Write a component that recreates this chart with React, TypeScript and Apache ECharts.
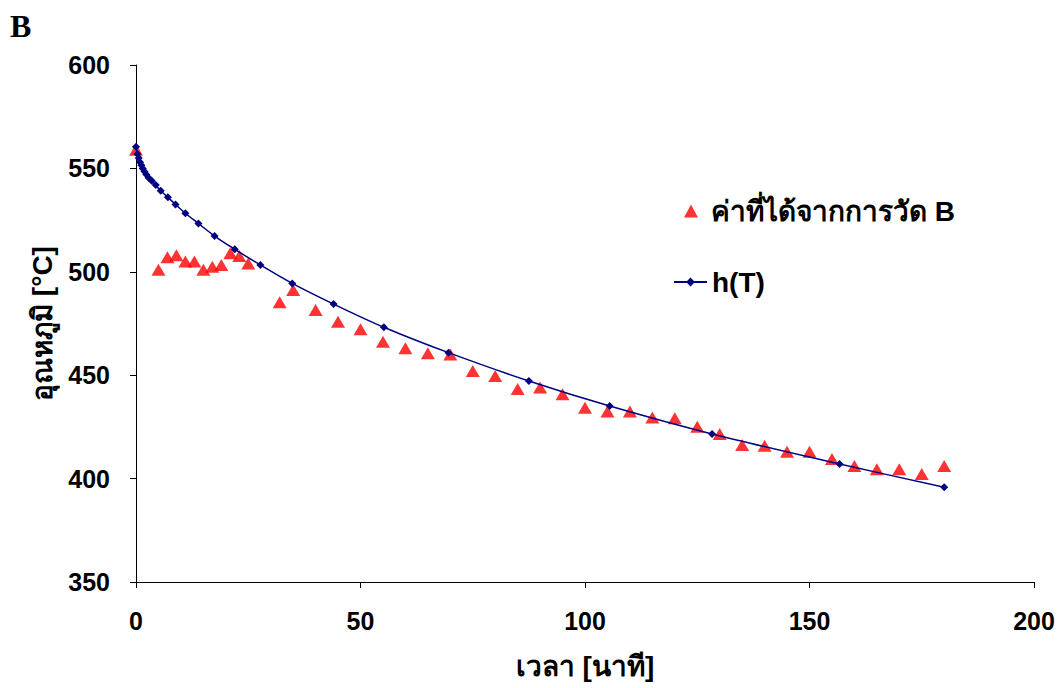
import React, { useEffect, useRef } from "react";
import * as echarts from "echarts";

const measuredName = "ค่าที่ได้จากการวัด B";
const modelName = "h(T)";

const measuredTime = [0, 5, 7, 9, 11, 13, 15, 17, 19, 21, 23, 25, 32, 35, 40, 45, 50, 55, 60, 65, 70, 75, 80, 85, 90, 95, 100, 105, 110, 115, 120, 125, 130, 135, 140, 145, 150, 155, 160, 165, 170, 175, 180];
const measuredTemp = [559, 501, 507, 508, 505, 505, 501, 502.5, 503.3, 509, 507.6, 504, 485.3, 491.2, 481.5, 475.9, 472.2, 466.2, 463, 460.6, 460, 452, 449.6, 443.3, 444.1, 440.8, 434.3, 432.4, 432.5, 429.5, 429.2, 425.1, 421.6, 416.2, 415.9, 413, 413, 409.5, 406.1, 404.5, 404.5, 402.2, 406.1];

const modelTime = [0, 0.3, 0.6, 0.9, 1.2, 1.5, 1.9, 2.3, 2.8, 3.5, 4.4, 5.5, 7.1, 8.8, 11, 13.9, 17.5, 22, 27.7, 34.8, 44, 55.2, 69.6, 87.5, 105.5, 128.3, 156.7, 180];
const modelTemp = [560.5, 557, 555, 553, 551.5, 550, 548.5, 547, 545.5, 544, 542, 539.2, 536, 532.6, 528.3, 523.4, 517.3, 510.9, 503.3, 494.4, 484.4, 473.2, 460.9, 447.2, 435.1, 421.6, 407.1, 395.8];

const xTicks = { min: 0, max: 200, interval: 50 };
const yTicks = { min: 350, max: 600, interval: 50 };

const FONT = "'Liberation Sans', Arial, 'Noto Sans', 'DejaVu Sans', sans-serif";

export default function App() {
  const ref = useRef<HTMLDivElement>(null);
  useEffect(() => {
    if (!ref.current) return;
    const chart = echarts.init(ref.current, null, { renderer: "svg" });
    const measured = measuredTime.map((t, i) => [t, measuredTemp[i]]);
    const model = modelTime.map((t, i) => [t, modelTemp[i]]);
    chart.setOption({
      animation: false,
      backgroundColor: "#fff",
      textStyle: { fontFamily: FONT },
      graphic: [
        {
          type: "text",
          left: 10,
          top: 10,
          style: {
            text: "B",
            font: "bold 32px 'Liberation Serif', 'Times New Roman', serif",
            fill: "#000",
          },
        },
      ],
      grid: { left: 136, top: 65, width: 898, height: 517, containLabel: false },
      xAxis: {
        type: "value",
        min: xTicks.min,
        max: xTicks.max,
        interval: xTicks.interval,
        name: "เวลา [นาที]",
        nameLocation: "middle",
        nameGap: 70,
        nameTextStyle: { fontFamily: FONT, fontWeight: "bold", fontSize: 28, color: "#000" },
        axisLine: { show: true, onZero: false, lineStyle: { color: "#000", width: 1 } },
        axisTick: { show: true, length: 6, lineStyle: { color: "#000" } },
        axisLabel: { fontFamily: FONT, fontWeight: "bold", fontSize: 25, color: "#000", margin: 26 },
        splitLine: { show: false },
      },
      yAxis: {
        type: "value",
        min: yTicks.min,
        max: yTicks.max,
        interval: yTicks.interval,
        name: "อุณหภูมิ [°C]",
        nameLocation: "middle",
        nameRotate: 90,
        nameGap: 80,
        nameTextStyle: { fontFamily: FONT, fontWeight: "bold", fontSize: 28, color: "#000" },
        axisLine: { show: true, onZero: false, lineStyle: { color: "#000", width: 1 } },
        axisTick: { show: true, length: 6, lineStyle: { color: "#000" } },
        axisLabel: { fontFamily: FONT, fontWeight: "bold", fontSize: 25, color: "#000", margin: 26 },
        splitLine: { show: false },
      },
      legend: [
        {
          data: [measuredName],
          orient: "vertical",
          left: 679,
          top: 192,
          itemWidth: 14,
          itemHeight: 13,
          itemGap: 10,
          textStyle: {
            fontFamily: FONT,
            fontWeight: "bold",
            fontSize: 28,
            color: "#000",
            padding: [0, 0, 0, 8],
          },
        },
        {
          data: [modelName],
          orient: "vertical",
          left: 668,
          top: 263,
          itemWidth: 33,
          itemHeight: 11,
          itemGap: 10,
          textStyle: { fontFamily: FONT, fontWeight: "bold", fontSize: 28, color: "#000" },
        },
      ],
      series: [
        {
          name: measuredName,
          type: "scatter",
          data: measured,
          symbol: "triangle",
          symbolSize: [14, 12],
          itemStyle: { color: "#ff0000" },
          z: 2,
        },
        {
          name: modelName,
          type: "line",
          data: model,
          smooth: 0.3,
          symbol: "diamond",
          symbolSize: 8,
          showSymbol: true,
          lineStyle: { color: "#000080", width: 1.5 },
          itemStyle: { color: "#000080" },
          z: 3,
        },
      ],
    });
    return () => chart.dispose();
  }, []);
  return (
    <div
      ref={ref}
      style={{ position: "fixed", left: 0, top: 0, width: 1063, height: 688, background: "#fff" }}
    />
  );
}
